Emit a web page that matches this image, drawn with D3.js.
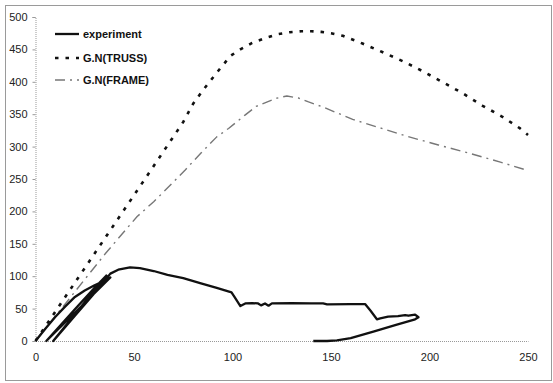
<!DOCTYPE html>
<html>
<head>
<meta charset="utf-8">
<script src="https://cdn.jsdelivr.net/npm/d3@7"></script>
<style>
  body { margin: 0; background: #fff; }
  svg { display: block; font-family: "Liberation Sans", Arial, sans-serif; }
</style>
</head>
<body>
<svg id="chart" width="553" height="383"></svg>
<script>
// series: [displacement, load]
let experiment = [
    [0, 0], [5, 19], [10, 37], [15, 53], [20, 68], [25, 78], [30, 86], [35, 93], [38, 98],
    [5.5, 0],
    [20, 49], [30, 82], [36, 101],
    [9, 0],
    [20, 39], [30, 74], [38, 104], [42, 110], [48, 113.5], [53, 112.5], [60, 108], [67, 102],
    [75, 97], [84, 89], [92, 82], [99.5, 75], [101, 68], [104, 54], [106.5, 58], [110, 58.5],
    [113, 58], [114.5, 55], [116.5, 58], [118.3, 54.5], [120, 58], [130, 58.5], [140, 58.2],
    [146, 58], [148, 56.6], [160, 57], [167.3, 57], [170, 47], [173.3, 33.5], [175, 35],
    [179, 37.6], [184, 38.5], [187.6, 40], [189.3, 39], [192.7, 40.6], [194.4, 36.6],
    [192.7, 33.5], [183, 25], [171.5, 14.5], [160, 4.5], [153, 1], [148, 0], [141, 0]
];
let truss = [
    [0, 0], [30, 135], [60, 270], [75, 338], [80, 366], [85, 387], [92, 414], [99, 440],
    [104, 450], [110, 460], [117, 468], [123, 473.5], [129, 476.5], [135, 478], [140, 478],
    [145, 477], [150, 475], [156, 471], [166, 459], [176, 446], [187, 431], [197, 415.6],
    [207, 399], [217, 382], [227, 363], [237, 346], [246, 328], [250, 318]
];
let frame = [
    [0, 0], [35.5, 135], [45.6, 171], [51.6, 192], [60, 215], [65, 230], [71, 248.5],
    [76, 264], [84, 290], [92, 315], [98, 328], [106.5, 349], [112, 362], [122, 374.5],
    [127.6, 378], [133.5, 375], [138.6, 369], [146, 361], [161, 342], [178, 326],
    [188.5, 316], [204.5, 302.5], [220, 290], [236, 276], [249, 264]
];
let seriesNames = ["experiment", "G.N(TRUSS)", "G.N(FRAME)"];
let xTicks = [0, 50, 100, 150, 200, 250];
let yTicks = [0, 50, 100, 150, 200, 250, 300, 350, 400, 450, 500];

let svg = d3.select("#chart");

// outer frame of the scanned chart
svg.append("rect")
    .attr("x", 5.5).attr("y", 5.5)
    .attr("width", 546).attr("height", 375)
    .attr("fill", "none")
    .attr("stroke", "#9a9a9a")
    .attr("stroke-width", 1);

let x = d3.scaleLinear().domain([0, 250]).range([35.5, 528]);
let y = d3.scaleLinear().domain([0, 500]).range([341, 17]);

// y axis
let yAxis = svg.append("g")
    .attr("transform", "translate(35.5,0)")
    .call(d3.axisLeft(y).tickValues(yTicks).tickSize(3).tickPadding(5));
yAxis.select(".domain").attr("stroke", "#999").attr("stroke-dasharray", "1,1");
yAxis.selectAll(".tick line").attr("stroke", "#999");
yAxis.selectAll("text").attr("font-size", 11).attr("fill", "#222");

// x axis
let xAxis = svg.append("g")
    .attr("transform", "translate(0,341)")
    .call(d3.axisBottom(x).tickValues(xTicks).tickSize(0).tickPadding(12));
xAxis.select(".domain").attr("stroke", "#999").attr("stroke-dasharray", "1,1");
xAxis.selectAll("text").attr("font-size", 11).attr("fill", "#222");

let line = d3.line()
    .x(function (d) { return x(d[0]); })
    .y(function (d) { return y(d[1]); });

let styles = [
    { stroke: "#111", width: 2.3, dash: null },
    { stroke: "#111", width: 2.6, dash: "3.5,7" },
    { stroke: "#777", width: 1.4, dash: "10,5,2,5" }
];
let data = [experiment, truss, frame];

// draw frame, truss, then experiment on top
[2, 1, 0].forEach(function (i) {
    svg.append("path")
        .datum(data[i])
        .attr("fill", "none")
        .attr("stroke", styles[i].stroke)
        .attr("stroke-width", styles[i].width)
        .attr("stroke-dasharray", styles[i].dash)
        .attr("stroke-linejoin", "round")
        .attr("d", line);
});

// legend
let legend = svg.append("g").attr("transform", "translate(55,0)");
let legendY = [34, 58, 80];
seriesNames.forEach(function (name, i) {
    legend.append("line")
        .attr("x1", 0).attr("x2", 24)
        .attr("y1", legendY[i]).attr("y2", legendY[i])
        .attr("stroke", styles[i].stroke)
        .attr("stroke-width", styles[i].width)
        .attr("stroke-dasharray", styles[i].dash);
    legend.append("text")
        .attr("x", 28)
        .attr("y", legendY[i])
        .attr("dy", "0.35em")
        .attr("font-size", 11)
        .attr("font-weight", "bold")
        .attr("fill", "#111")
        .text(name);
});
</script>
</body>
</html>
